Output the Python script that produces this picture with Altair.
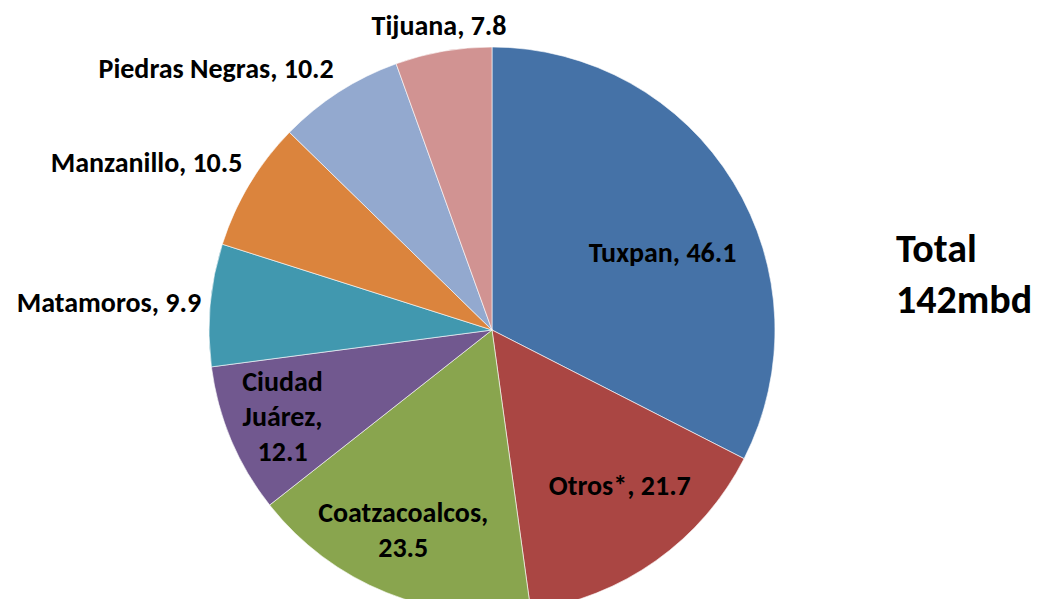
import altair as alt
import pandas as pd

categories = ["Tuxpan", "Otros*", "Coatzacoalcos", "Ciudad Juárez", "Matamoros",
              "Manzanillo", "Piedras Negras", "Tijuana"]
values = [46.1, 21.7, 23.5, 12.1, 9.9, 10.5, 10.2, 7.8]
labels = ["Tuxpan, 46.1", "Otros*, 21.7", "Coatzacoalcos,\n23.5", "Ciudad\nJuárez,\n12.1",
          "Matamoros, 9.9", "Manzanillo, 10.5", "Piedras Negras, 10.2", "Tijuana, 7.8"]
colors = ["#4572A7", "#AA4643", "#89A54E", "#71588F", "#4198AF", "#DB843D", "#93A9CF", "#D19392"]
total_text = "Total\n142mbd"

df = pd.DataFrame({"cat": categories, "val": values, "label": labels,
                   "idx": list(range(len(categories)))})

FONT = "Carlito, Lato"
SIZE = 28

base = alt.Chart(df).encode(
    theta=alt.Theta("val:Q", stack=True),
    order=alt.Order("idx:Q"),
)

pie = base.mark_arc(radius=283, stroke="white", strokeWidth=0.6).encode(
    color=alt.Color("cat:N", scale=alt.Scale(domain=categories, range=colors), legend=None)
)

def label_layer(names, radius, align="center", dy=0, dx=0):
    return base.mark_text(
        radius=radius, align=align, baseline="middle", font=FONT, fontSize=SIZE,
        fontWeight="bold", color="black", lineBreak="\n", lineHeight=35, dy=dy, dx=dx
    ).encode(
        text=alt.condition(alt.FieldOneOfPredicate(field="cat", oneOf=names),
                           alt.Text("label:N"), alt.value(""))
    )

layers = [
    pie,
    label_layer(["Tuxpan"], 200, dy=28),
    label_layer(["Otros*"], 205, dy=-10, dx=9),
    label_layer(["Coatzacoalcos"], 224, dy=-24, dx=-5),
    label_layer(["Ciudad Juárez"], 224, dy=-34, dx=-3),
    label_layer(["Matamoros"], 292, align="right"),
    label_layer(["Manzanillo"], 291, align="right", dy=-16),
    label_layer(["Piedras Negras"], 298, align="right", dy=-9, dx=3),
    label_layer(["Tijuana"], 308),
]

total = alt.Chart(pd.DataFrame({"t": [total_text]})).mark_text(
    align="left", baseline="alphabetic", font=FONT, fontSize=40, fontWeight="bold",
    color="black", lineBreak="\n", lineHeight=51
).encode(text="t:N", x=alt.value(888), y=alt.value(192))
layers.append(total)

chart = alt.layer(*layers).properties(
    width=968, height=520,
    autosize=alt.AutoSizeParams(type="none"),
    padding={"left": 0, "top": 62, "right": 56, "bottom": 9},
).configure_view(stroke=None)

chart.save("out.html", embed_options={"renderer": "svg", "actions": False})
